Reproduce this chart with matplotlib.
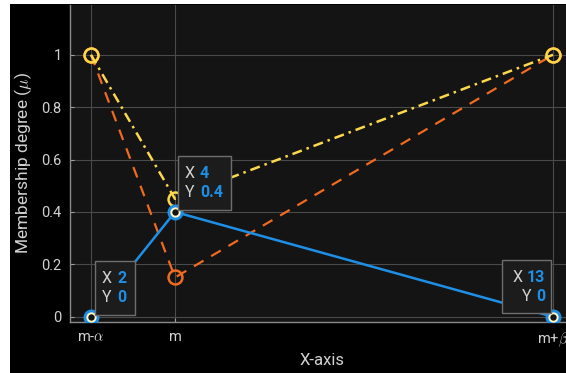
import numpy as np
import matplotlib.pyplot as plt
import matplotlib.transforms as mtransforms
from matplotlib.patches import Rectangle

# data
x_pts = [2, 4, 13]
x_ticklabels = ['m-$\\alpha$', 'm', 'm+$\\beta$']
y_ticks = [0, 0.2, 0.4, 0.6, 0.8, 1]
mu_blue = [0, 0.4, 0]        # solid
mu_yellow = [1, 0.45, 1]     # dash-dot
mu_orange = [1, 0.15, 1]     # dashed

# datatips: (x, y, box offset px, box size px, right aligned)
tips = [(2, 0, (4, 2), (40, 54), False),
        (4, 0.4, (3, 2), (53, 54), False),
        (13, 0, (-51, 4), (49, 53), True)]

blue = '#1f8fe6'
orange = '#f06a1f'
yellow = '#fcd84a'
axbg = '#141414'
txt = '#d2d2d2'

plt.rcParams['font.family'] = ['Roboto', 'DejaVu Sans']
plt.rcParams['mathtext.fontset'] = 'cm'

fig = plt.figure(figsize=(5.66, 3.73), dpi=100)
fig.patch.set_facecolor('white')
# black figure area (white strip at left / top in the reference)
fig.patches.append(Rectangle((10 / 566, 0), 1, 1 - 4 / 373, transform=fig.transFigure,
                             facecolor='black', edgecolor='none', zorder=-10))

ax = fig.add_axes([70 / 566, 51 / 373, 504 / 566, 317 / 373])
ax.set_facecolor(axbg)
ax.set_xlim(1.5, 13.5)
ax.set_ylim(-0.02, 1.19)

ax.plot(x_pts, mu_orange, color=orange, lw=1.6, ls=(0, (5, 4)),
        marker='o', ms=10, mfc='none', mec=orange, mew=1.8, zorder=3)
ax.plot(x_pts, mu_yellow, color=yellow, lw=1.8, ls=(0, (4, 2, 1, 2)),
        marker='o', ms=10, mfc='none', mec=yellow, mew=1.8, zorder=4)
ax.plot(x_pts, mu_blue, color=blue, lw=1.8, zorder=5)
ax.plot(x_pts, mu_blue, ls='none', marker='o', ms=10.5, mfc=blue, mec=blue, mew=1, zorder=6)
ax.plot(x_pts, mu_blue, ls='none', marker='o', ms=6, mfc=axbg, mec='#fff4c4', mew=1.4, zorder=7)

ax.set_xticks(x_pts)
ax.set_xticklabels(x_ticklabels)
ax.set_yticks(y_ticks)
ax.set_yticklabels(['0', '0.2', '0.4', '0.6', '0.8', '1'])
ax.grid(True, color='#4a4a4a', lw=0.8)
ax.tick_params(direction='in', length=3, colors='#a0a0a0', labelcolor=txt,
               labelsize=10.5, pad=6)
for s in ['top', 'right']:
    ax.spines[s].set_visible(False)
for s in ['left', 'bottom']:
    ax.spines[s].set_color('#8a8a8a')
    ax.spines[s].set_linewidth(1.0)

ax.set_ylabel('Membership degree ($\\mu$)', color=txt, fontsize=12.5, labelpad=5)
ax.set_xlabel('X-axis', color=txt, fontsize=12, labelpad=3)

# datatip boxes
fs = 11.5
for x, y, (ox, oy), (w, h), right in tips:
    tr = mtransforms.ScaledTranslation(x, y, ax.transData)
    box = Rectangle((ox, oy), w, h, transform=mtransforms.Affine2D() + tr,
                    facecolor='#1c1c1c', edgecolor='#6e6e6e', lw=1, zorder=10,
                    clip_on=False)
    ax.add_patch(box)
    xs = '%g' % x
    ys = '%g' % y
    for i, (lab, val) in enumerate([('X', xs), ('Y', ys)]):
        ty = oy + h - 22 - i * 19
        if right:
            tx = ox + w - 6
            t1 = ax.text(0, 0, val, color=blue, fontsize=fs, fontweight='bold',
                         ha='right', va='baseline', zorder=11,
                         transform=mtransforms.offset_copy(tr, fig, x=tx, y=ty, units='dots'))
            fig.canvas.draw()
            wv = t1.get_window_extent().width
            ax.text(0, 0, lab, color=txt, fontsize=fs, ha='right', va='baseline', zorder=11,
                    transform=mtransforms.offset_copy(tr, fig, x=tx - wv - 4, y=ty, units='dots'))
        else:
            tx = ox + 7
            ax.text(0, 0, lab, color=txt, fontsize=fs, ha='left', va='baseline', zorder=11,
                    transform=mtransforms.offset_copy(tr, fig, x=tx, y=ty, units='dots'))
            ax.text(0, 0, val, color=blue, fontsize=fs, fontweight='bold', ha='left',
                    va='baseline', zorder=11,
                    transform=mtransforms.offset_copy(tr, fig, x=tx + 15, y=ty, units='dots'))

fig.savefig('out.png', dpi=100, facecolor=fig.get_facecolor())
